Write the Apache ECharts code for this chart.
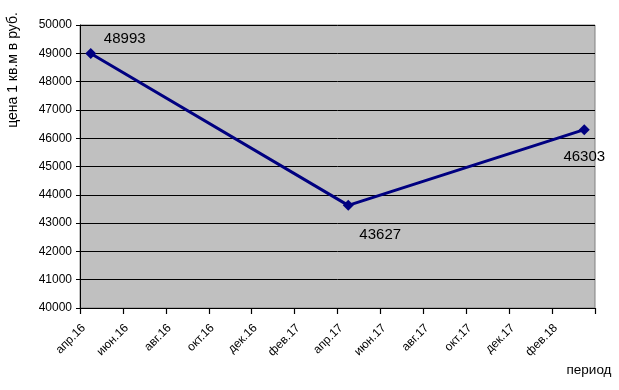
<!DOCTYPE html>
<html><head><meta charset="utf-8">
<script src="https://cdn.jsdelivr.net/npm/echarts@6/dist/echarts.min.js"></script>
<style>html,body{margin:0;padding:0;background:#fff}#c{width:619px;height:390px}</style>
</head><body><div id="c"></div>
<script>
var months = ['апр.16','май.16','июн.16','июл.16','авг.16','сен.16','окт.16','ноя.16','дек.16','янв.17','фев.17','мар.17',
              'апр.17','май.17','июн.17','июл.17','авг.17','сен.17','окт.17','ноя.17','дек.17','янв.18','фев.18','мар.18'];
var pointMonths = ['апр.16','апр.17','мар.18'];
var pointValues = [48993, 43627, 46303];
var yTicks = [40000,41000,42000,43000,44000,45000,46000,47000,48000,49000,50000];

var labelOffsets = [[34,-15],[32,12],[0,9]];
var labelPos = ['inside','bottom','bottom'];
var data = pointMonths.map(function(m,i){
  return {value:[m,pointValues[i]], label:{position:labelPos[i], offset:labelOffsets[i]}};
});
var F = 'Arial, "Liberation Sans", sans-serif';
var chart = echarts.init(document.getElementById('c'));
chart.setOption({
  animation:false,
  grid:{left:80,right:24,top:25,bottom:82,show:true,backgroundColor:'#c0c0c0',borderColor:'#808080',borderWidth:1},
  xAxis:[{type:'category',data:months,boundaryGap:true,z:10,
    axisLine:{show:true,lineStyle:{color:'#000',width:1}},
    axisTick:{show:true,inside:false,interval:1,length:6,lineStyle:{color:'#000',width:1.2}},
    axisLabel:{interval:1,rotate:45,color:'#000',fontSize:12,fontFamily:F,margin:11,padding:[0,10,0,0]},
    splitLine:{show:false}}],
  yAxis:{type:'value',min:yTicks[0],max:yTicks[yTicks.length-1],interval:1000,
    axisLine:{show:true,lineStyle:{color:'#000'}},
    axisTick:{show:true,length:4,lineStyle:{color:'#000'}},
    axisLabel:{color:'#000',fontSize:12,fontFamily:F,margin:8,formatter:function(v){return String(v);}},
    splitLine:{lineStyle:{color:'#000',width:1}}},
  graphic:[
    {type:'text',x:13,y:70,rotation:Math.PI/2,style:{text:'цена 1 кв.м в руб.',fill:'#000',font:'14px '+F,align:'center',verticalAlign:'middle'}},
    {type:'text',x:589,y:370,style:{text:'период',fill:'#000',font:'13.5px '+F,align:'center',verticalAlign:'middle'}}
  ],
  series:[{type:'line',data:data,symbol:'diamond',symbolSize:11,
    lineStyle:{color:'#000080',width:3},itemStyle:{color:'#000080'},
    label:{show:true,formatter:function(p){return p.value[1];},color:'#000',fontSize:15,fontFamily:F}}]
});
</script></body></html>
